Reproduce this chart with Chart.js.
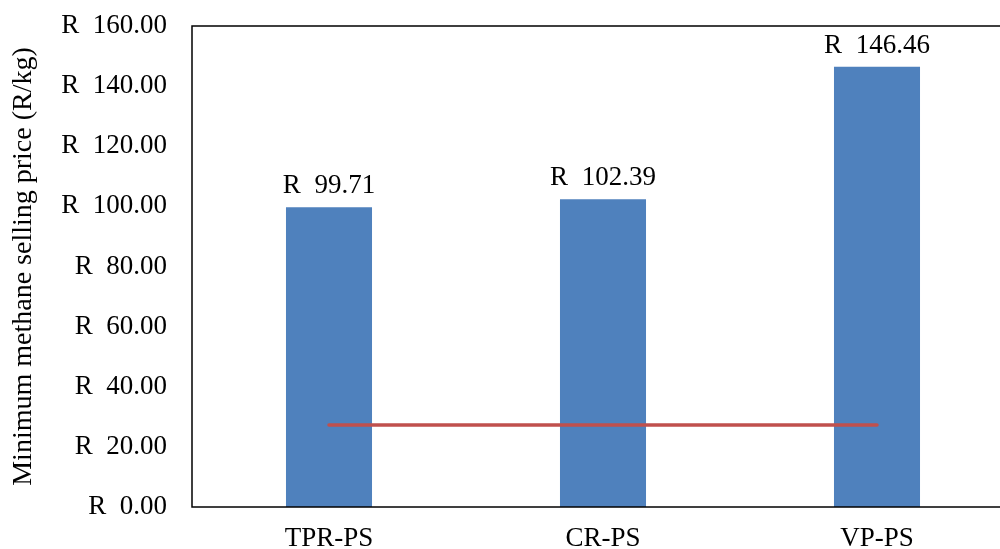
<!DOCTYPE html>
<html>
<head>
<meta charset="utf-8">
<script src="https://cdn.jsdelivr.net/npm/chart.js@4.4.1/dist/chart.umd.min.js"></script>
<style>
  html, body { margin: 0; padding: 0; background: #fff; overflow: hidden; }
  #wrap { width: 1020px; height: 549px; }
</style>
</head>
<body>
<div id="wrap"><canvas id="priceChart" width="1020" height="549"></canvas></div>
<script>
// ==========================================
// DATA
// ==========================================
const processes = ["TPR-PS", "CR-PS", "VP-PS"];
const minSellingPrice = [99.71, 102.39, 146.46];   // R/kg
const marketPrice = [27.3, 27.3, 27.3];             // reference price line
const yTicks = [0, 20, 40, 60, 80, 100, 120, 140, 160];

const FONT = "'Liberation Serif', 'Times New Roman', serif";
const FS = 27;
const randFmt = v => 'R  ' + v.toFixed(2);

// box around the plot area
const frame = {
    id: 'frame',
    afterDraw(chart) {
        const a = chart.chartArea, ctx = chart.ctx;
        ctx.save();
        ctx.strokeStyle = '#000';
        ctx.lineWidth = 1.5;
        ctx.strokeRect(a.left, a.top, a.right - a.left, a.bottom - a.top);
        ctx.restore();
    }
};

// value labels over the bars
const barLabels = {
    id: 'barLabels',
    afterDatasetsDraw(chart) {
        const meta = chart.getDatasetMeta(1);
        const ctx = chart.ctx;
        ctx.save();
        ctx.font = FS + 'px ' + FONT;
        ctx.fillStyle = '#000';
        ctx.textAlign = 'center';
        ctx.textBaseline = 'alphabetic';
        meta.data.forEach((bar, i) => {
            ctx.fillText(randFmt(minSellingPrice[i]), bar.x, bar.y - 14);
        });
        ctx.restore();
    }
};

new Chart(document.getElementById('priceChart'), {
    data: {
        labels: processes,
        datasets: [
            { type: 'line', data: marketPrice, borderColor: '#C0504D', borderWidth: 3.5,
              borderCapStyle: 'round', pointRadius: 0, fill: false, order: 0 },
            { type: 'bar', data: minSellingPrice, backgroundColor: '#4F81BD',
              barPercentage: 1, categoryPercentage: 0.314, order: 1 }
        ]
    },
    options: {
        responsive: false,
        animation: false,
        layout: { padding: { top: 26, right: 6, left: 0, bottom: 0 } },
        plugins: { legend: { display: false }, tooltip: { enabled: false } },
        scales: {
            x: {
                grid: { display: false, drawTicks: false },
                border: { display: false },
                ticks: { color: '#000', font: { family: FONT, size: FS }, padding: 16 },
                afterFit(s) { s.height = 42; s.paddingLeft = 0; s.paddingRight = 0; }
            },
            y: {
                min: 0, max: 160,
                afterBuildTicks(s) { s.ticks = yTicks.map(v => ({ value: v })); },
                grid: { display: false, drawTicks: false },
                border: { display: false },
                ticks: { color: '#000', font: { family: FONT, size: FS }, padding: 25,
                         callback: v => randFmt(v) },
                title: { display: true, text: 'Minimum methane selling price (R/kg)',
                         color: '#000', font: { family: FONT, size: 28 }, padding: { top: 7, bottom: 0 } },
                afterFit(s) { s.width = 192; s.paddingTop = 0; s.paddingBottom = 0; }
            }
        }
    },
    plugins: [frame, barLabels]
});
</script>
</body>
</html>
